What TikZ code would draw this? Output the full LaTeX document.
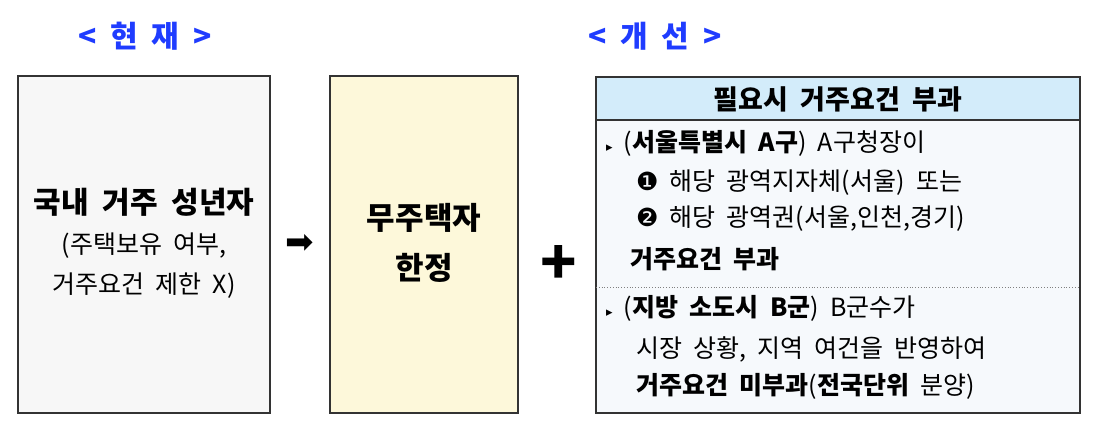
\documentclass[tikz,border=0pt]{standalone}
\usepackage{fontspec}
\setmainfont{Noto Sans CJK KR}[WordSpace=2]
\newfontfamily\sym{DejaVu Sans}
\definecolor{hdblue}{HTML}{1F3CFF}
\definecolor{graybg}{HTML}{F7F7F7}
\definecolor{yelbg}{HTML}{FDF8DA}
\definecolor{hdbg}{HTML}{D3ECFA}
\definecolor{bodybg}{HTML}{F6F9FC}
\tikzset{box/.style={draw=black!80,line width=1.2pt},
 title/.style={text=hdblue,font=\fontsize{30}{32}\selectfont\bfseries},
 rt/.style={anchor=west,font=\fontsize{25}{26}\selectfont,inner sep=0pt}}
\begin{document}
\begin{tikzpicture}[x=1pt,y=-1pt]
\useasboundingbox (0,0) rectangle (1095,433);
\node[title] (t1) at (145,36) {< 현 재 >};
\node[title] (t2) at (655,36) {< 개 선 >};
\draw[box,fill=graybg] (18,76) rectangle (270,413);
\node[align=center,font=\fontsize{25}{40}\selectfont] (a) at (144,243) {{\fontsize{30}{40}\selectfont\bfseries 국내 거주 성년자}\\(주택보유 여부,\\거주요건 제한 X)};
\draw[box,fill=yelbg] (330,76) rectangle (518,413);
\node[align=center,font=\fontsize{31}{50}\selectfont\bfseries] (b) at (424,243) {무주택자\\한정};
\node[font=\fontsize{34}{34}\selectfont\sym] (arr) at (300,244) {➡};
\node[font=\fontsize{60}{60}\selectfont\bfseries] (plus) at (559,265) {+};
\draw[box,fill=bodybg] (596,77) rectangle (1080,413);
\draw[box,fill=hdbg] (596,77) rectangle (1080,120);
\node[font=\fontsize{27}{28}\selectfont\bfseries] (h) at (838,99) {필요시 거주요건 부과};
\draw[dotted,gray,line width=0.8pt] (596,287) -- (1080,287);
\node[rt] (l1) at (606,143) {{\fontsize{13}{13}\selectfont\sym ▸} (\textbf{서울특별시 A구}) A구청장이};
\node[rt] (l2) at (636,183) {{\sym ❶} 해당 광역지자체(서울) 또는};
\node[rt] (l3) at (636,219) {{\sym ❷} 해당 광역권(서울,인천,경기)};
\node[rt] (l4) at (630,259) {\textbf{거주요건 부과}};
\node[rt] (l5) at (606,308) {{\fontsize{13}{13}\selectfont\sym ▸} (\textbf{지방 소도시 B군}) B군수가};
\node[rt] (l6) at (636,349) {시장 상황, 지역 여건을 반영하여};
\node[rt] (l7) at (636,386) {\textbf{거주요건 미부과}(\textbf{전국단위} 분양)};
\end{tikzpicture}
\end{document}
